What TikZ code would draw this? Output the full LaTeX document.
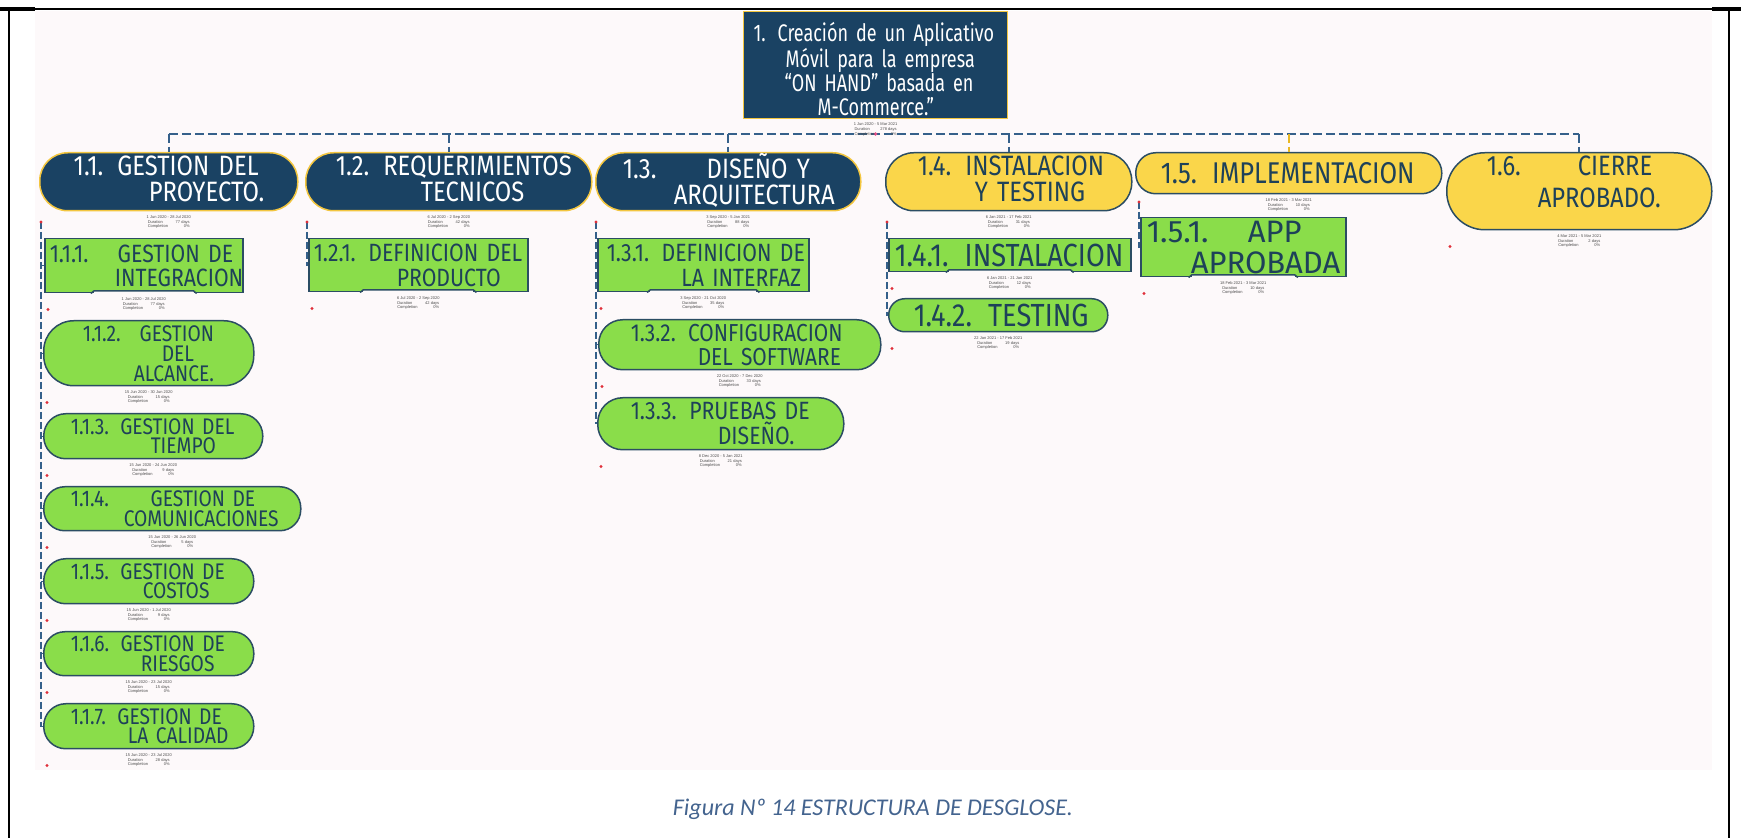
\documentclass[tikz,border=0pt]{standalone}
\usepackage{fontspec}
\setmainfont{Fira Sans}
\newfontfamily\wbsfont[FakeStretch=0.85]{Fira Sans}
\newfontfamily\widefont{Fira Sans}
\newfontfamily\rootfont[FakeStretch=0.75]{Fira Sans}
\newfontfamily\infofont{Liberation Sans}
\newfontfamily\capfont{Carlito}
\usetikzlibrary{calc}

\definecolor{navy}{HTML}{1A4263}
\definecolor{gold}{HTML}{F3C63F}
\definecolor{sun}{HTML}{FAD64A}
\definecolor{leafgreen}{HTML}{8ADD4A}
\definecolor{inkblue}{HTML}{1E4159}
\definecolor{rim}{HTML}{2B4D63}
\definecolor{wireblue}{HTML}{35608A}
\definecolor{wiregold}{HTML}{E9B824}
\definecolor{pagetint}{HTML}{FDF9FA}
\definecolor{capblue}{HTML}{44648F}
\definecolor{dotred}{HTML}{E0303A}
\definecolor{dotpink}{HTML}{E8508A}

% one line of a box label, indented from the left edge of the box
\newcommand\wl[2]{\hspace*{#1}\mbox{#2}}
% a line whose number is followed by a fixed tab
\newcommand\wlt[4]{\hspace*{#1}\makebox[#2][l]{#3}#4}
% small red marker under a box
\newcommand\rdot[1]{\fill[dotred] ($(#1.south west)+(4,16)$) circle (0.8pt);}
% schedule block under a box
\newcommand\info[4]{\node[info] (#1) at ($(#2.south)+(0,3)$)
  {#3\\\makebox[21pt]{Duration\hfill #4}\\\makebox[21pt]{Completion\hfill 0\%}};}
% raised middle part of the lower edge of a rectangular box
\newcommand\notch[1]{%
  \fill[pagetint] ($(#1.south west)!0.25!(#1.south east)+(0,-2.5)$) rectangle
                  ($(#1.south west)!0.75!(#1.south east)+(0,1.2)$);
  \draw[rim, line width=0.75pt]
     ($(#1.south west)!0.25!(#1.south east)+(-3,0)$) --
     ($(#1.south west)!0.25!(#1.south east)+(0,-2.5)$) --
     ($(#1.south west)!0.75!(#1.south east)+(0,-2.5)$) --
     ($(#1.south west)!0.75!(#1.south east)+(3,0)$);}

\tikzset{
  wbs/.style={anchor=north west, inner xsep=0pt, inner ysep=0pt, align=left, line width=0.75pt},
  dark/.style={wbs, fill=navy, draw=gold, text=white},
  yel/.style={wbs, fill=sun, draw=rim, text=inkblue},
  grn/.style={wbs, fill=leafgreen, draw=rim, text=inkblue},
  dims/.style n args={2}{minimum width=#1, text width=#1, minimum height=#2},
  fs/.style n args={2}{font=\wbsfont\fontsize{#1}{#2}\selectfont},
  bus/.style={draw=wireblue, line width=1pt, dash pattern=on 4.5pt off 2pt},
  busgold/.style={draw=wiregold, line width=1pt, dash pattern=on 4.5pt off 2pt},
  spine/.style={draw=wireblue, line width=0.7pt, dash pattern=on 3.5pt off 1.5pt},
  info/.style={anchor=north, inner sep=0.3pt, align=center,
    font=\infofont\fontsize{2}{2.4}\selectfont, text=black!70},
}

\begin{document}
\begin{tikzpicture}[x=0.5pt, y=-0.5pt]
\useasboundingbox (0,0) rectangle (1741,838);
\fill[white] (0,0) rectangle (1741,838);
\fill[pagetint] (35,11) rectangle (1712,770);

% page frame
\draw[black, line width=0.75pt] (0,9) -- (1741,9);
\draw[black, line width=1.6pt] (0,9) -- (35,9);
\draw[black, line width=1.6pt] (1712,9) -- (1741,9);
\draw[black, line width=0.75pt] (9,9) -- (9,838);
\draw[black, line width=0.75pt] (1729,9) -- (1729,838);

% root
\node[dark, dims={132pt}{53.5pt}, font=\rootfont\fontsize{12}{12}\selectfont, line width=0.6pt] (n1) at (743,11)
  {\rule{0pt}{13.5pt}\wl{5pt}{1. Creación de un Aplicativo}\\\wl{21pt}{Móvil para la empresa}\\
   \wl{20.5pt}{“ON HAND” basada en}\\\wl{37pt}{M-Commerce.”}};

% first level
\node[dark, dims={129pt}{29pt}, rounded corners=14pt, fs={14}{13}] (n11) at (39,152)
  {\wl{17pt}{1.1. GESTION DEL}\\\wl{54.5pt}{PROYECTO.}\rule[-3pt]{0pt}{0pt}};
\node[dark, dims={143pt}{29pt}, rounded corners=14pt, fs={14}{13}] (n12) at (305,152)
  {\wl{15pt}{1.2. REQUERIMIENTOS}\\\wl{57.5pt}{TECNICOS}\rule[-3pt]{0pt}{0pt}};
\node[dark, dims={132.5pt}{29pt}, rounded corners=14pt, fs={14}{13}] (n13) at (595,152)
  {\wlt{13.5pt}{42pt}{1.3.}{DISEÑO Y}\\\wl{39pt}{ARQUITECTURA}\rule[-3pt]{0pt}{0pt}};
\node[yel, dims={123pt}{29pt}, rounded corners=14pt, fs={14}{13}] (n14) at (885,152)
  {\wl{16pt}{1.4. INSTALACION}\\\wl{44.5pt}{Y TESTING}\rule[-3pt]{0pt}{0pt}};
\node[yel, dims={153pt}{20.5pt}, rounded corners=10pt, fs={15}{13}] (n15) at (1135,152)
  {\wl{12.5pt}{1.5. IMPLEMENTACION}};
\node[yel, dims={132.5pt}{38.5pt}, rounded corners=19pt, fs={14}{16}] (n16) at (1446,152)
  {\wlt{20pt}{45.5pt}{1.6.}{CIERRE}\\\wl{45.5pt}{APROBADO.}\rule[-10pt]{0pt}{0pt}};

% second level: 1.1
\node[grn, dims={99pt}{27pt}, fs={12.5}{12.2}] (n111) at (44,238)
  {\wlt{2.5pt}{34pt}{1.1.1.}{GESTION DE}\\\wl{35pt}{INTEGRACION}};
\node[grn, dims={105pt}{32.5pt}, rounded corners=15pt, fs={11.3}{10}] (n112) at (43,320)
  {\wl{19.5pt}{1.1.2.~ GESTION}\\\wl{59pt}{DEL}\\\wl{45pt}{ALCANCE.}};
\node[grn, dims={109.5pt}{22.5pt}, rounded corners=11pt, fs={11.3}{9.7}] (n113) at (43,413)
  {\wl{13.5pt}{1.1.3. GESTION DEL}\\\wl{53.5pt}{TIEMPO}};
\node[grn, dims={128.5pt}{22pt}, rounded corners=10.5pt, fs={11.3}{9.7}] (n114) at (43,486)
  {\wlt{13.5pt}{40pt}{1.1.4.}{GESTION DE}\\\wl{40pt}{COMUNICACIONES}};
\node[grn, dims={105pt}{22.5pt}, rounded corners=11pt, fs={11.3}{9.7}] (n115) at (43,558)
  {\wl{13.5pt}{1.1.5. GESTION DE}\\\wl{49.5pt}{COSTOS}};
\node[grn, dims={105pt}{22pt}, rounded corners=10.5pt, fs={11.3}{9.7}] (n116) at (43,631)
  {\wl{13.5pt}{1.1.6. GESTION DE}\\\wl{48.5pt}{RIESGOS}};
\node[grn, dims={105pt}{22.5pt}, rounded corners=11pt, fs={11.3}{9.7}] (n117) at (43,703)
  {\wl{13.5pt}{1.1.7. GESTION DE}\\\wl{42pt}{LA CALIDAD}};

% second level: 1.2
\node[grn, dims={109.5pt}{26.5pt}, fs={12.5}{12.2}] (n121) at (308,238)
  {\wl{2.5pt}{1.2.1. DEFINICION DEL}\\\wl{44pt}{PRODUCTO}};

% second level: 1.3
\node[grn, dims={105.5pt}{26.5pt}, fs={12.5}{12.2}] (n131) at (597,238)
  {\wl{4.5pt}{1.3.1. DEFINICION DE}\\\wl{41.8pt}{LA INTERFAZ}};
\node[grn, dims={141pt}{25pt}, rounded corners=12pt, fs={12.3}{12}] (n132) at (598,319)
  {\wl{16pt}{1.3.2. CONFIGURACION}\\\wl{49.5pt}{DEL SOFTWARE}};
\node[grn, dims={123pt}{26pt}, rounded corners=12.5pt, fs={12.5}{12.5}] (n133) at (597,397)
  {\wl{16.5pt}{1.3.3. PRUEBAS DE}\\\wl{60pt}{DISEÑO.}};

% second level: 1.4
\node[grn, dims={121pt}{16.5pt}, fs={16}{15}] (n141) at (888,238)
  {\wl{3pt}{1.4.1. INSTALACION}};
\node[grn, dims={109.5pt}{16.5pt}, rounded corners=8pt, fs={16}{15}] (n142) at (888,298)
  {\wl{12.5pt}{1.4.2. TESTING}};

% second level: 1.5
\node[grn, dims={102.5pt}{29.5pt}, font=\widefont\fontsize{15.5}{15.5}\selectfont] (n151) at (1140,217)
  {\wlt{3pt}{50.5pt}{1.5.1.}{APP}\\\wl{25pt}{APROBADA}};

\notch{n111}\notch{n121}\notch{n131}\notch{n141}\notch{n151}

% horizontal bus under the root and its drops
\coordinate (hub) at (875.5,134);
\coordinate (busL) at (n11.north |- hub);
\coordinate (busR) at (n16.north |- hub);
\draw[bus] (busL) -- (busR);
\draw[bus] (n11.north |- hub) -- (n11.north);
\draw[bus] (n12.north |- hub) -- (n12.north);
\draw[bus] (n13.north |- hub) -- (n13.north);
\draw[bus] (n14.north |- hub) -- (n14.north);
\draw[busgold] (n15.north |- hub) -- (n15.north);
\draw[bus] (n16.north |- hub) -- (n16.north);
\fill[dotpink] (hub) circle (0.9pt);

% vertical spines to the children
\coordinate (k11) at (41,222);
\coordinate (k12) at (307,222);
\coordinate (k13) at (596,222);
\coordinate (k14) at (887,222);
\coordinate (k15) at (1139,202);
\draw[spine] (k11) |- (n117.west);
\foreach \c in {n111,n112,n113,n114,n115,n116}{\draw[spine] (k11 |- \c.west) -- (\c.west);}
\draw[spine] (k12) |- (n121.west);
\draw[spine] (k13) |- (n133.west);
\foreach \c in {n131,n132}{\draw[spine] (k13 |- \c.west) -- (\c.west);}
\draw[spine] (k14) |- (n142.west);
\draw[spine] (k14 |- n141.west) -- (n141.west);
\draw[spine] (k15) |- (n151.west);
\foreach \k in {k11,k12,k13,k14,k15}{\fill[dotred] (\k) circle (0.8pt);}

% markers under the leaves
\rdot{n111}\rdot{n112}\rdot{n113}\rdot{n114}\rdot{n115}\rdot{n116}\rdot{n117}
\rdot{n121}\rdot{n131}\rdot{n132}\rdot{n133}\rdot{n141}\rdot{n142}\rdot{n151}\rdot{n16}

% schedule blocks
\info{i1}{n1}{1 Jun 2020 - 5 Mar 2021}{278 days}
\info{i11}{n11}{1 Jun 2020 - 28 Jul 2020}{77 days}
\info{i12}{n12}{6 Jul 2020 - 2 Sep 2020}{42 days}
\info{i13}{n13}{3 Sep 2020 - 5 Jan 2021}{88 days}
\info{i14}{n14}{6 Jan 2021 - 17 Feb 2021}{31 days}
\info{i15}{n15}{18 Feb 2021 - 3 Mar 2021}{10 days}
\info{i16}{n16}{4 Mar 2021 - 5 Mar 2021}{2 days}
\info{i111}{n111}{1 Jun 2020 - 28 Jul 2020}{77 days}
\info{i112}{n112}{15 Jun 2020 - 30 Jun 2020}{15 days}
\info{i113}{n113}{15 Jun 2020 - 24 Jun 2020}{9 days}
\info{i114}{n114}{15 Jun 2020 - 26 Jun 2020}{5 days}
\info{i115}{n115}{15 Jun 2020 - 1 Jul 2020}{9 days}
\info{i116}{n116}{15 Jun 2020 - 23 Jul 2020}{15 days}
\info{i117}{n117}{15 Jun 2020 - 23 Jul 2020}{28 days}
\info{i121}{n121}{6 Jul 2020 - 2 Sep 2020}{42 days}
\info{i131}{n131}{3 Sep 2020 - 21 Oct 2020}{35 days}
\info{i132}{n132}{22 Oct 2020 - 7 Dec 2020}{33 days}
\info{i133}{n133}{8 Dec 2020 - 5 Jan 2021}{21 days}
\info{i141}{n141}{6 Jan 2021 - 21 Jan 2021}{12 days}
\info{i142}{n142}{22 Jan 2021 - 17 Feb 2021}{19 days}
\info{i151}{n151}{18 Feb 2021 - 3 Mar 2021}{10 days}

% caption
\node[font=\capfont\itshape\fontsize{12}{14}\selectfont, text=capblue] (cap) at (873,809)
  {Figura Nº 14 ESTRUCTURA DE DESGLOSE.};
\end{tikzpicture}
\end{document}
